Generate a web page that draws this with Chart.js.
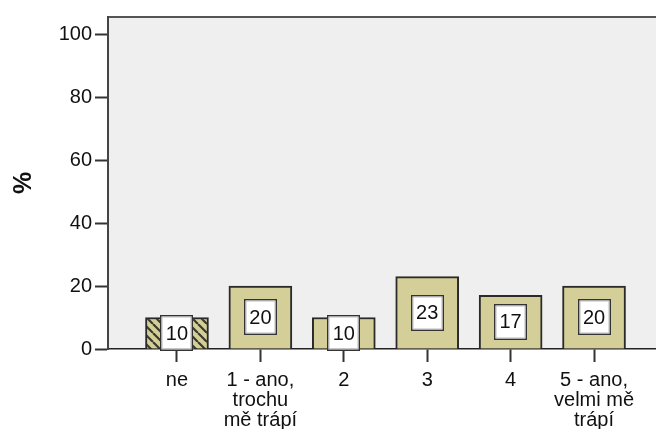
<!DOCTYPE html>
<html>
<head>
<meta charset="utf-8">
<script src="https://cdn.jsdelivr.net/npm/chart.js@4/dist/chart.umd.min.js"></script>
<style>
html,body{margin:0;padding:0;background:#fff;overflow:hidden;}
#wrap{width:656px;height:429px;position:relative;}
</style>
</head>
<body>
<div id="wrap"><canvas id="c" width="656" height="429"></canvas></div>
<script>
const categories = [['ne'], ['1 - ano,', 'trochu', 'mě trápí'], ['2'], ['3'], ['4'], ['5 - ano,', 'velmi mě', 'trápí']];
const percentValues = [10, 20, 10, 23, 17, 20];
const valueLabels = ['10', '20', '10', '23', '17', '20'];
const yTicks = [0, 20, 40, 60, 80, 100];
const yAxisTitle = '%';

const FONT = '"Liberation Sans", Arial, sans-serif';
const KHAKI = '#d4cf98';

function hatchPattern() {
  const p = document.createElement('canvas');
  p.width = 9; p.height = 9;
  const g = p.getContext('2d');
  g.fillStyle = KHAKI;
  g.fillRect(0, 0, 9, 9);
  g.strokeStyle = '#3a3a2a';
  g.lineWidth = 2.2;
  g.beginPath();
  for (let k = -9; k <= 18; k += 9) {
    g.moveTo(k, 0);
    g.lineTo(k + 9, 9);
  }
  g.stroke();
  return document.getElementById('c').getContext('2d').createPattern(p, 'repeat');
}
const pat = hatchPattern();

const plotBg = {
  id: 'plotBg',
  beforeDraw(chart) {
    const {ctx, chartArea: a} = chart;
    ctx.save();
    ctx.fillStyle = '#efefef';
    ctx.fillRect(a.left, a.top, a.right - a.left, a.bottom - a.top);
    ctx.strokeStyle = '#555';
    ctx.lineWidth = 2;
    ctx.beginPath();
    ctx.moveTo(a.left, a.top);
    ctx.lineTo(a.right, a.top);
    ctx.stroke();
    ctx.restore();
  }
};

const boxLabels = {
  id: 'boxLabels',
  afterDatasetsDraw(chart) {
    const {ctx} = chart;
    const meta = chart.getDatasetMeta(0);
    ctx.save();
    meta.data.forEach((bar, i) => {
      const cx = bar.x;
      const cy = (bar.y + bar.base) / 2;
      const w = 33, h = 36;
      const x0 = Math.round(cx - w / 2), y0 = Math.round(cy - h / 2);
      ctx.fillStyle = '#fff';
      ctx.fillRect(x0, y0, w, h);
      if (y0 + h > bar.base) {
        ctx.fillStyle = '#a9a9a9';
        ctx.fillRect(x0, bar.base, w, y0 + h - bar.base);
      }
      ctx.strokeStyle = '#333';
      ctx.lineWidth = 1.5;
      ctx.strokeRect(x0 + 0.75, y0 + 0.75, w - 1.5, h - 1.5);
      ctx.strokeStyle = '#bbb';
      ctx.lineWidth = 1;
      ctx.strokeRect(x0 + 2, y0 + 2, w - 4, h - 4);
      ctx.fillStyle = '#111';
      ctx.font = '20px ' + FONT;
      ctx.textAlign = 'center';
      ctx.textBaseline = 'middle';
      ctx.fillText(valueLabels[i], cx, Math.min(cy, bar.base - 14) + 1);
    });
    ctx.restore();
  }
};

new Chart(document.getElementById('c'), {
  type: 'bar',
  data: {
    datasets: [{
      data: percentValues.map((v, i) => ({x: i, y: v})),
      backgroundColor: percentValues.map((v, i) => i === 0 ? pat : KHAKI),
      borderColor: '#2a2a2a',
      borderWidth: 2,
      borderSkipped: 'bottom',
      barThickness: 63
    }]
  },
  options: {
    responsive: false,
    animation: false,
    events: [],
    layout: {padding: {top: 17, left: 0, right: 0, bottom: 0}},
    plugins: {legend: {display: false}, tooltip: {enabled: false}},
    scales: {
      x: {
        type: 'linear',
        offset: false,
        min: -0.827,
        max: 5.743,
        afterBuildTicks(s) { s.ticks = categories.map((c, i) => ({value: i})); },
        afterFit(s) { s.height = 80; },
        ticks: {
          autoSkip: false, maxRotation: 0, minRotation: 0,
          padding: 8,
          color: '#111',
          font: {family: FONT, size: 20, lineHeight: 1.0},
          callback: (v) => categories[v]
        },
        grid: {display: true, offset: false, drawOnChartArea: false, drawTicks: true, tickLength: 13, tickColor: '#333', tickWidth: 2},
        border: {display: true, color: '#222', width: 1.5}
      },
      y: {
        min: 0,
        max: 105.4,
        afterBuildTicks(s) { s.ticks = yTicks.map(v => ({value: v})); },
        afterFit(s) { s.width = 108; },
        ticks: {
          padding: 3,
          color: '#111',
          font: {family: FONT, size: 20},
          callback: (v) => String(v)
        },
        grid: {display: true, drawOnChartArea: false, drawTicks: true, tickLength: 13, tickColor: '#333', tickWidth: 2},
        border: {display: true, color: '#444', width: 2},
        title: {
          display: true,
          text: yAxisTitle,
          color: '#111',
          font: {family: FONT, size: 25, weight: 'bold', lineHeight: 1},
          padding: {top: 12, bottom: 0}
        }
      }
    }
  },
  plugins: [plotBg, boxLabels]
});
</script>
</body>
</html>
